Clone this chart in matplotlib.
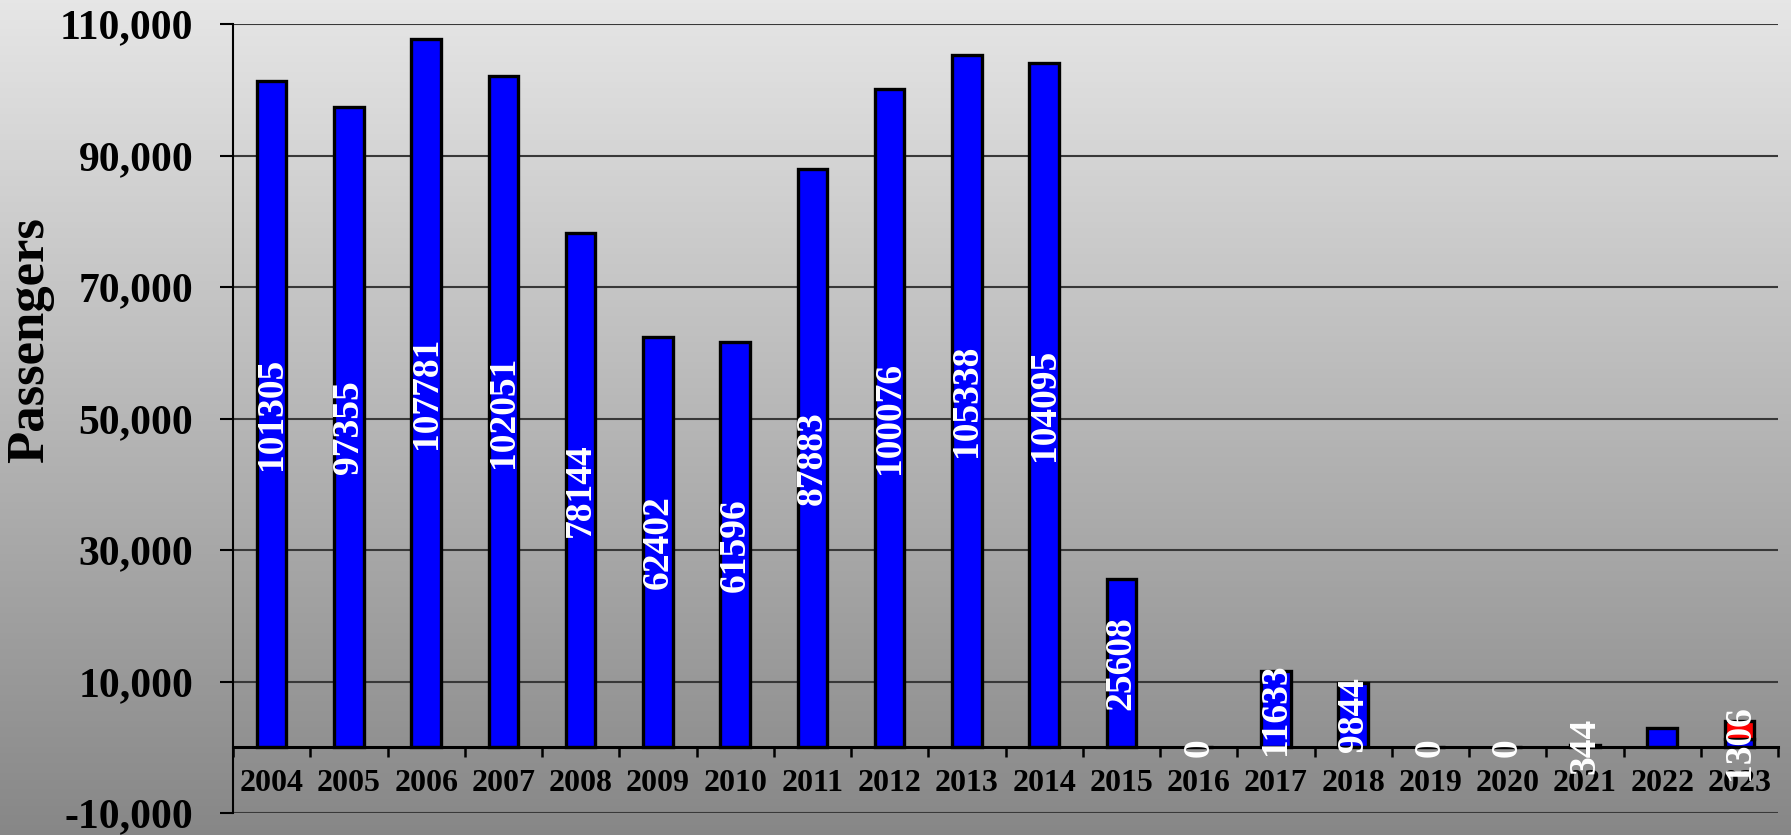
import numpy as np
import matplotlib
matplotlib.use("Agg")
import matplotlib.pyplot as plt

years = ["2004", "2005", "2006", "2007", "2008", "2009", "2010", "2011", "2012", "2013",
         "2014", "2015", "2016", "2017", "2018", "2019", "2020", "2021", "2022", "2023"]
passengers = [101305, 97355, 107781, 102051, 78144, 62402, 61596, 87883, 100076, 105338,
              104095, 25608, 0, 11633, 9844, 0, 0, 344, 2900, 1306]
extra_red = [0, 0, 0, 0, 0, 0, 0, 0, 0, 0, 0, 0, 0, 0, 0, 0, 0, 0, 0, 2650]
labels = ["101305", "97355", "107781", "102051", "78144", "62402", "61596", "87883", "100076", "105338",
          "104095", "25608", "0", "11633", "9844", "0", "0", "344", "", "1306"]
yticks = [-10000, 10000, 30000, 50000, 70000, 90000, 110000]
ytick_labels = ["-10,000", "10,000", "30,000", "50,000", "70,000", "90,000", "110,000"]

W, H = 1791, 835
fig = plt.figure(figsize=(W / 100, H / 100), dpi=100)

# background gradient
bg = fig.add_axes([0, 0, 1, 1], zorder=-10)
grad = np.linspace(230, 135, 256)[:, None] / 255.0
bg.imshow(np.dstack([grad, grad, grad]), aspect="auto", extent=[0, 1, 0, 1])
bg.axis("off")

ax = fig.add_axes([233 / W, 1 - 813 / H, (1778 - 233) / W, (813 - 24) / H])
ax.set_facecolor("none")
ax.spines["top"].set_visible(False)
ax.spines["right"].set_visible(False)
ax.spines["bottom"].set_position(("data", 0))
ax.spines["bottom"].set_linewidth(2.2)
ax.spines["bottom"].set_zorder(4)
ax.spines["left"].set_linewidth(1.5)

x = np.arange(len(years))
bw = 0.385
ax.bar(x, passengers, width=bw, color="#0000FF", edgecolor="black", linewidth=2.4, zorder=3)
reds = ax.bar(x, extra_red, width=bw, bottom=passengers, color="#FF0000", edgecolor="black",
              linewidth=2.4, zorder=3)
for p, r in zip(reds, extra_red):
    if r == 0:
        p.set_visible(False)

font = "Liberation Serif"
for xi, v, lab in zip(x, passengers, labels):
    if lab:
        ax.text(xi, v / 2, lab, rotation=90, ha="center", va="center", color="white",
                fontsize=27, fontweight="bold", family=font, zorder=5)

ax.set_xlim(-0.5, len(years) - 0.5)
ax.set_ylim(-10000, 110000)
ax.set_yticks(yticks)
ax.set_yticklabels(ytick_labels, fontsize=30, fontweight="bold", family=font)
ax.set_xticks(x)
ax.set_xticks(np.arange(-0.5, len(years) + 0.5, 1.0), minor=True)
ax.set_xticklabels(years, fontsize=23, fontweight="bold", family=font)

ax.grid(axis="y", color="#383838", linewidth=1.5, zorder=1)

ax.tick_params(axis="y", which="major", length=9.5, width=1.5, pad=19, colors="black")
ax.tick_params(axis="x", which="major", length=0, pad=16)
ax.tick_params(axis="x", which="minor", length=7.5, width=1.8, direction="out")

fig.text(30 / W, 1 - 340 / H, "Passengers", rotation=90, ha="center", va="center",
         fontsize=38, fontweight="bold", family=font)

fig.savefig("out.png", dpi=100)
